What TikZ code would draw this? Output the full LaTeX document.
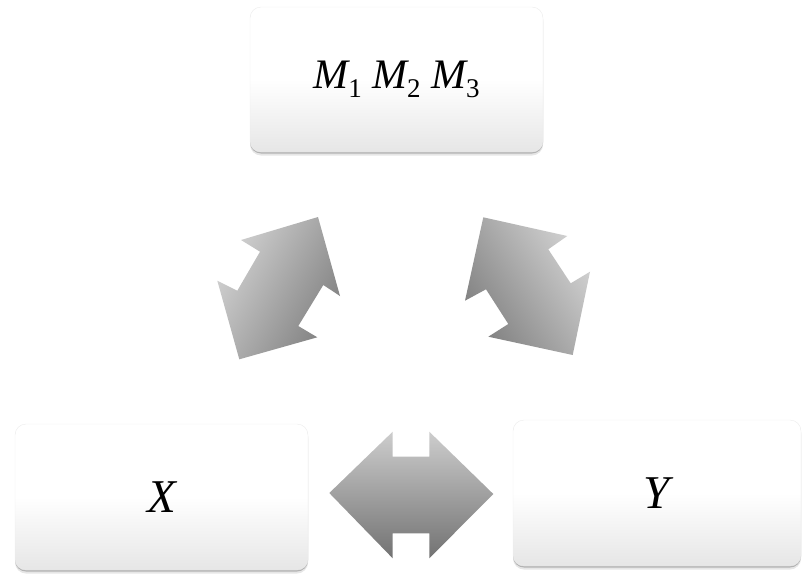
\documentclass[tikz,border=0pt]{standalone}
\usepackage{fontspec}
\setmainfont{Liberation Serif}
\usetikzlibrary{shadows}
\definecolor{arrlight}{HTML}{CDCDCD}
\definecolor{arrdark}{HTML}{727272}
\definecolor{diaglight}{HTML}{D2D2D2}
\definecolor{diagdark}{HTML}{808080}
\definecolor{boxlow}{HTML}{E6E6E6}
\pgfdeclareverticalshading{boxshade}{100bp}{color(0bp)=(boxlow); color(25bp)=(boxlow); color(50bp)=(white); color(100bp)=(white)}
\newcommand{\subn}[1]{\raisebox{-0.22em}{\fontsize{27}{30}\selectfont\upshape #1}}
\begin{document}
\begin{tikzpicture}[x=1pt,y=-1pt,
  box/.style={rectangle, rounded corners=11pt, inner sep=0pt,
    shading=boxshade, draw=gray!15, line width=0.4pt,
    drop shadow={shadow xshift=0pt, shadow yshift=-1.5pt, opacity=.5},
    drop shadow={shadow xshift=0pt, shadow yshift=-3.5pt, opacity=.2}},
  blockarrow/.style={top color=arrlight, bottom color=arrdark, draw=none},
  diagarrow/.style={top color=diaglight, bottom color=diagdark, draw=none},
  lbl/.style={font=\fontsize{42}{48}\selectfont\itshape},
  lblbig/.style={font=\fontsize{47}{52}\selectfont\itshape}]
\useasboundingbox (0,0) rectangle (802,573);
% boxes
\node[box, minimum width=293pt, minimum height=145pt, lbl] (m) at (396.5,79.5)
  {M\subn{1} M\subn{2} M\subn{3}};
\node[box, minimum width=293pt, minimum height=146pt, lblbig] (x) at (161.5,497) {X};
\node[box, minimum width=288pt, minimum height=146pt, lblbig] (y) at (657,493) {Y};
% left diagonal double arrow
\path[diagarrow, shading angle=61]
  (318,217) -- (241,240) -- (260,251.7) -- (237.3,290.7) -- (217.3,280.7)
  -- (239.3,359.3) -- (317.3,337.3) -- (298.3,326) -- (323.3,285)
  -- (340,296) -- cycle;
% right diagonal double arrow
\path[diagarrow, shading angle=-57]
  (483.3,217.3) -- (567.3,236) -- (548.3,249.3) -- (570.7,283.3)
  -- (590,271.7) -- (572.7,355) -- (488.3,336.7) -- (508.3,324)
  -- (486,289.3) -- (465,300.7) -- cycle;
% bottom horizontal double arrow
\path[blockarrow]
  (329.3,493) -- (392.7,431.7) -- (392.7,456.7) -- (429.3,456.7)
  -- (429.3,431.7) -- (493.3,494) -- (429.3,558.3) -- (429.3,533.3)
  -- (392.7,533.3) -- (392.7,558.3) -- cycle;
\end{tikzpicture}
\end{document}
